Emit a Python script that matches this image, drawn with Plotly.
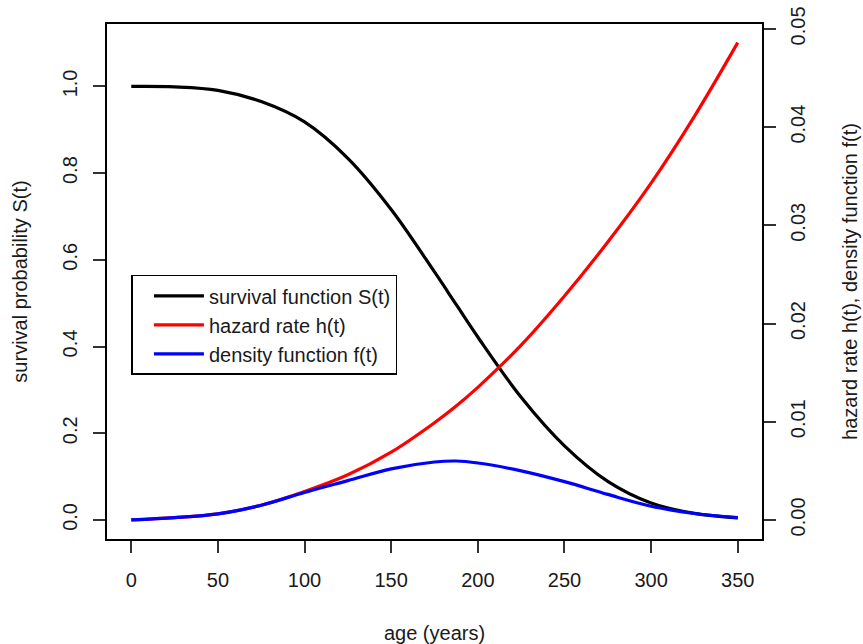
import plotly.graph_objects as go

# age values (years)
age = [0, 25, 50, 75, 100, 125, 150, 175, 187.5, 200, 225, 250, 275, 300, 325, 350]
# survival function S(t) (left axis)
survival = [1.000, 0.999, 0.991, 0.965, 0.918, 0.834, 0.716, 0.572, 0.497, 0.422, 0.283, 0.171, 0.089, 0.039, 0.015, 0.0046]
# hazard rate h(t) (right axis)
hazard = [0.0, 0.00023, 0.00062, 0.0015, 0.0029, 0.0046, 0.0069, 0.0099, 0.0116, 0.0135, 0.0178, 0.0228, 0.0283, 0.0343, 0.0411, 0.0486]
# density function f(t) (right axis)
density = [0.0, 0.00023, 0.00062, 0.0015, 0.0028, 0.0040, 0.0052, 0.0059, 0.0060, 0.0058, 0.0050, 0.0039, 0.0026, 0.0014, 0.00066, 0.00024]

series_names = ["survival function S(t)", "hazard rate h(t)", "density function f(t)"]
x_ticks = [0, 50, 100, 150, 200, 250, 300, 350]
y_ticks = [0.0, 0.2, 0.4, 0.6, 0.8, 1.0]
y2_ticks = [0.00, 0.01, 0.02, 0.03, 0.04, 0.05]

FONT = "Liberation Sans, Arial, sans-serif"
FS = 20

fig = go.Figure()
fig.add_trace(go.Scatter(x=age, y=survival, mode="lines", name=series_names[0],
                         line=dict(color="#000000", width=3.2, shape="spline", smoothing=1.0), yaxis="y"))
fig.add_trace(go.Scatter(x=age, y=hazard, mode="lines", name=series_names[1],
                         line=dict(color="#ff0000", width=3.2, shape="spline", smoothing=1.0), yaxis="y2"))
fig.add_trace(go.Scatter(x=age, y=density, mode="lines", name=series_names[2],
                         line=dict(color="#0000ff", width=3.2, shape="spline", smoothing=1.0), yaxis="y2"))

axis_common = dict(showgrid=False, zeroline=False, showline=True, linecolor="black", linewidth=2,
                   ticks="outside", ticklen=12, tickwidth=1.5, tickcolor="#333333", automargin=False,
                   tickfont=dict(family=FONT, size=FS, color="#1a1a1a"))

fig.update_layout(
    width=863, height=644, autosize=False,
    margin=dict(l=107, r=101, t=24, b=105),
    paper_bgcolor="white", plot_bgcolor="white",
    font=dict(family=FONT, size=FS, color="#1a1a1a"),
    xaxis=dict(range=[-14, 364], tickvals=x_ticks, mirror=True, ticklabelstandoff=10,
               title=dict(text="age (years)", standoff=36, font=dict(family=FONT, size=FS)),
               **axis_common),
    yaxis=dict(range=[-0.044, 1.144], tickvals=y_ticks, tickformat=".1f", tickangle=-90,
               ticklabelstandoff=8,
               title=dict(text="survival probability S(t)", standoff=26, font=dict(family=FONT, size=FS)),
               **axis_common),
    yaxis2=dict(range=[-0.00194, 0.0505], tickvals=y2_ticks, tickformat=".2f", tickangle=-90,
                overlaying="y", side="right", ticklabelstandoff=5,
                title=dict(text="hazard rate h(t), density function f(t)", standoff=35, font=dict(family=FONT, size=FS)),
                **axis_common),
    legend=dict(x=0.0373, y=0.513, xanchor="left", yanchor="top",
                bgcolor="white", bordercolor="black", borderwidth=1.5,
                font=dict(family=FONT, size=FS, color="#1a1a1a"),
                itemwidth=50, indentation=16, tracegroupgap=0),
    showlegend=True,
)

fig.write_html("out.html")
